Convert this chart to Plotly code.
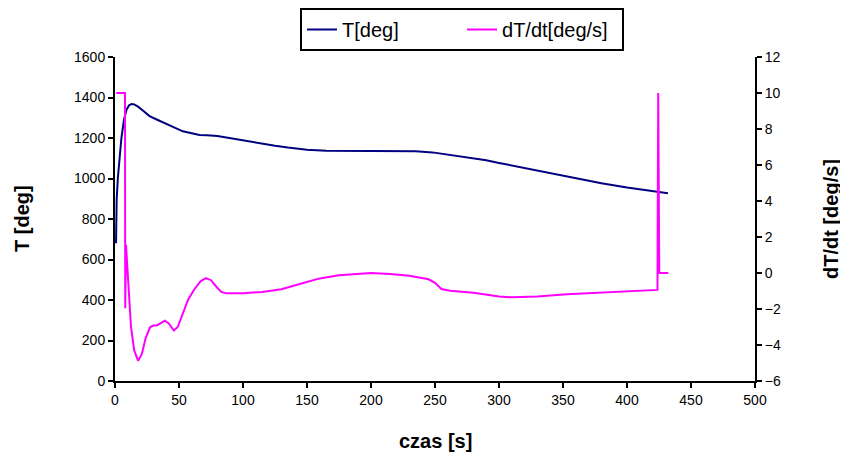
import plotly.graph_objects as go

t_T = [0.8, 1.3, 2.2, 3.4, 5, 7, 9, 11, 13, 15, 18, 22, 27, 33, 40, 47, 53, 60, 66, 72, 80, 87, 95, 105,
       115, 125, 135, 150, 165, 180, 200, 220, 235, 248, 260, 275, 290, 300, 320, 340, 360, 380, 400, 415, 425, 432]
T_vals = [680, 894, 1000, 1091, 1200, 1290, 1340, 1362, 1368, 1366, 1355, 1335, 1308, 1290, 1268, 1250, 1233,
          1222, 1215, 1213, 1210, 1202, 1193, 1182, 1172, 1162, 1153, 1142, 1137, 1136, 1136, 1136, 1134, 1129,
          1118, 1105, 1090, 1077, 1052, 1027, 1000, 977, 955, 941, 933, 927]

t_d = [1, 7.8, 8.0, 8.6, 9.5, 11, 12.5, 15, 18, 21, 24, 27.5, 30, 33, 36, 39, 42, 46, 49, 53, 57, 62, 67, 71,
       75, 79, 83, 87, 100, 115, 130, 145, 160, 175, 190, 200, 215, 230, 245, 250, 255, 262, 280, 300, 310, 330,
       353, 380, 410, 423.8, 424.4, 425.2, 432.3]
d_vals = [10, 10, -1.96, 1.56, 0.5, -1.5, -3.0, -4.3, -4.87, -4.5, -3.6, -3.0, -2.92, -2.9, -2.75, -2.65, -2.8,
          -3.2, -3.0, -2.3, -1.5, -0.9, -0.45, -0.28, -0.4, -0.75, -1.05, -1.13, -1.12, -1.05, -0.9, -0.6, -0.3,
          -0.12, -0.03, 0.0, -0.05, -0.15, -0.35, -0.55, -0.89, -0.98, -1.1, -1.3, -1.35, -1.3, -1.18, -1.08,
          -0.98, -0.94, 10, 0, 0]

FONT = "Liberation Sans, Arial, sans-serif"

fig = go.Figure()
fig.add_trace(go.Scatter(x=t_T, y=T_vals, mode="lines", name="T[deg]",
                         line=dict(color="#000080", width=2)))
fig.add_trace(go.Scatter(x=t_d, y=d_vals, mode="lines", name="dT/dt[deg/s]", yaxis="y2",
                         line=dict(color="#FF00FF", width=2)))

axis_common = dict(showgrid=False, zeroline=False, showline=True, linecolor="black", linewidth=2,
                   ticks="outside", ticklen=5, tickwidth=2, tickcolor="black",
                   tickfont=dict(family=FONT, size=14, color="black"))

fig.update_layout(
    width=840, height=453,
    margin=dict(l=107, r=93, t=49, b=80, autoexpand=False),
    plot_bgcolor="white", paper_bgcolor="white",
    font=dict(family=FONT, color="black"),
    xaxis=dict(range=[0, 500], dtick=50, **axis_common),
    yaxis=dict(range=[0, 1600], dtick=200, **axis_common),
    yaxis2=dict(range=[-6, 12], dtick=2, overlaying="y", side="right", **axis_common),
    legend=dict(orientation="h", xref="container", yref="container", x=0.5405, y=1.0,
                xanchor="center", yanchor="top", entrywidth=115, entrywidthmode="pixels",
                bordercolor="black", borderwidth=2, font=dict(family=FONT, size=20)),
    showlegend=True,
    annotations=[
        dict(text="<b>czas [s]</b>", xref="paper", yref="paper", x=0.5, y=0, yshift=-60,
             showarrow=False, font=dict(family=FONT, size=20), yanchor="middle"),
        dict(text="<b>T [deg]</b>", xref="paper", yref="paper", x=0, y=0.5, xshift=-93,
             showarrow=False, textangle=-90, font=dict(family=FONT, size=20), xanchor="center"),
        dict(text="<b>dT/dt [deg/s]</b>", xref="paper", yref="paper", x=1, y=0.5, xshift=76,
             showarrow=False, textangle=-90, font=dict(family=FONT, size=20), xanchor="center"),
    ],
)

fig.write_html("out.html")
